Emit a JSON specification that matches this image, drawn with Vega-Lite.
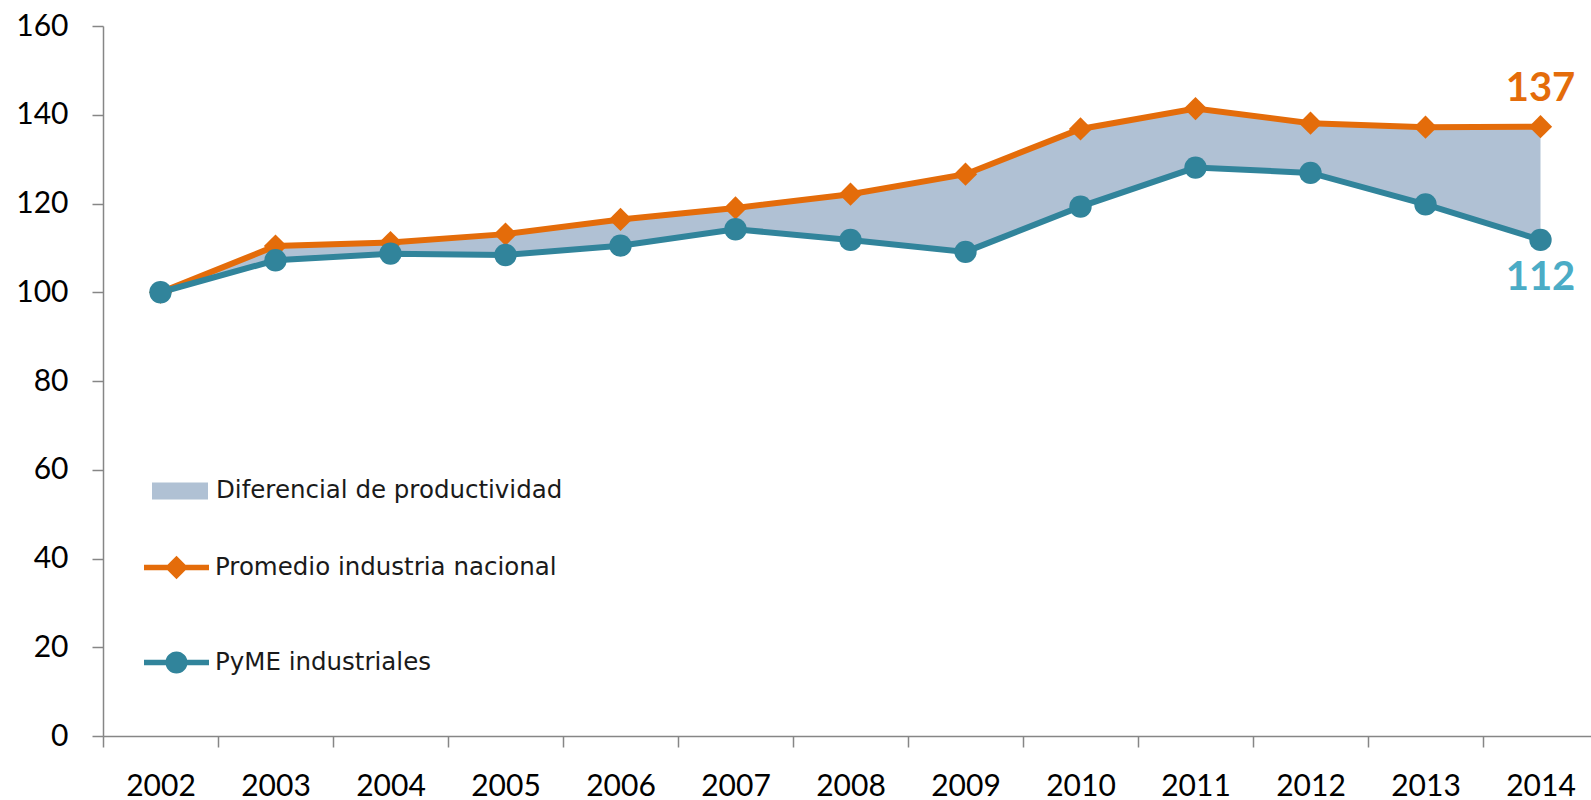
{
  "$schema": "https://vega.github.io/schema/vega-lite/v6.json",
  "width": 1488,
  "height": 710,
  "autosize": "none",
  "padding": {"left": 103, "top": 26, "right": 0, "bottom": 64},
  "background": "white",
  "config": {
    "view": {"stroke": null},
    "axis": {
      "domainColor": "#868686",
      "tickColor": "#868686",
      "domainWidth": 1.5,
      "tickWidth": 1.5,
      "tickSize": 11,
      "labelFont": "Lato",
      "labelFontSize": 30,
      "labelColor": "#000000",
      "labelPadding": 24,
      "grid": false,
      "title": null
    }
  },
  "resolve": {"scale": {"fill": "independent", "shape": "independent"}},
  "data": {
    "values": [
      {"year": "2002", "Promedio industria nacional": 100.0, "PyME industriales": 100.0},
      {"year": "2003", "Promedio industria nacional": 110.4, "PyME industriales": 107.2},
      {"year": "2004", "Promedio industria nacional": 111.2, "PyME industriales": 108.7},
      {"year": "2005", "Promedio industria nacional": 113.1, "PyME industriales": 108.4},
      {"year": "2006", "Promedio industria nacional": 116.4, "PyME industriales": 110.5},
      {"year": "2007", "Promedio industria nacional": 119.0, "PyME industriales": 114.2},
      {"year": "2008", "Promedio industria nacional": 122.1, "PyME industriales": 111.8},
      {"year": "2009", "Promedio industria nacional": 126.6, "PyME industriales": 109.1},
      {"year": "2010", "Promedio industria nacional": 136.8, "PyME industriales": 119.3},
      {"year": "2011", "Promedio industria nacional": 141.4, "PyME industriales": 128.1},
      {"year": "2012", "Promedio industria nacional": 138.1, "PyME industriales": 126.9},
      {"year": "2013", "Promedio industria nacional": 137.2, "PyME industriales": 119.8},
      {"year": "2014", "Promedio industria nacional": 137.3, "PyME industriales": 111.8}
    ]
  },
  "encoding": {
    "x": {
      "field": "year",
      "type": "ordinal",
      "scale": {"type": "band", "range": [0, 1495], "paddingInner": 0, "paddingOuter": 0},
      "axis": {"labelAngle": 0, "tickBand": "extent"}
    }
  },
  "layer": [
    {
      "mark": {"type": "area", "opacity": 1},
      "encoding": {
        "y": {
          "field": "PyME industriales",
          "type": "quantitative",
          "scale": {"domain": [0, 160], "nice": false},
          "axis": {"values": [0, 20, 40, 60, 80, 100, 120, 140, 160]}
        },
        "y2": {"field": "Promedio industria nacional"},
        "fill": {
          "datum": "Diferencial de productividad",
          "type": "nominal",
          "scale": {"range": ["#B0C1D4"]},
          "legend": {
            "orient": "none",
            "legendX": 49,
            "legendY": 437,
            "title": null,
            "padding": 0,
            "symbolType": "M-1,-0.3L1,-0.3L1,0.3L-1,0.3Z",
            "symbolSize": 3136,
            "symbolStrokeWidth": 0,
            "symbolOpacity": 1,
            "labelFont": "DejaVu Sans",
            "labelFontSize": 24.5,
            "labelColor": "#1a1a1a",
            "labelOffset": 8,
            "labelLimit": 500
          }
        }
      }
    },
    {
      "transform": [{"fold": ["Promedio industria nacional", "PyME industriales"], "as": ["serie", "valor"]}],
      "mark": {"type": "line", "strokeWidth": 6},
      "encoding": {
        "y": {"field": "valor", "type": "quantitative"},
        "stroke": {
          "field": "serie",
          "type": "nominal",
          "scale": {"domain": ["Promedio industria nacional", "PyME industriales"], "range": ["#E46C0A", "#31849B"]},
          "legend": null
        }
      }
    },
    {
      "mark": {"type": "point", "shape": "diamond", "filled": true, "opacity": 1, "size": 540, "color": "#E46C0A"},
      "encoding": {
        "y": {"field": "Promedio industria nacional", "type": "quantitative"}
      }
    },
    {
      "mark": {"type": "point", "shape": "circle", "filled": true, "opacity": 1, "size": 500, "color": "#31849B"},
      "encoding": {
        "y": {"field": "PyME industriales", "type": "quantitative"}
      }
    },
    {
      "transform": [
        {"fold": ["Promedio industria nacional", "PyME industriales"], "as": ["serie", "valor"]},
        {"filter": "datum.year === 'leyenda'"}
      ],
      "mark": {"type": "point", "filled": true, "opacity": 1},
      "encoding": {
        "y": {"field": "valor", "type": "quantitative"},
        "fill": {
          "field": "serie",
          "type": "nominal",
          "scale": {"domain": ["Promedio industria nacional", "PyME industriales"], "range": ["#E46C0A", "#31849B"]},
          "legend": {
            "orient": "none",
            "legendX": 41,
            "legendY": 509,
            "title": null,
            "padding": 0,
            "symbolSize": 4225,
            "symbolOpacity": 1,
            "symbolStrokeWidth": 0,
            "rowPadding": 50,
            "labelFont": "DejaVu Sans",
            "labelFontSize": 24.5,
            "labelColor": "#1a1a1a",
            "labelOffset": 6,
            "labelLimit": 500
          }
        },
        "shape": {
          "field": "serie",
          "type": "nominal",
          "scale": {
            "domain": ["Promedio industria nacional", "PyME industriales"],
            "range": [
              "M-1,-0.085L1,-0.085L1,0.085L-1,0.085Z M0,-0.36L0.36,0L0,0.36L-0.36,0Z",
              "M-1,-0.085L1,-0.085L1,0.085L-1,0.085Z M-0.34,0A0.34,0.34 0 1,1 0.34,0A0.34,0.34 0 1,1 -0.34,0Z"
            ]
          },
          "legend": {
            "orient": "none",
            "legendX": 41,
            "legendY": 509,
            "title": null,
            "padding": 0,
            "symbolSize": 4225,
            "symbolOpacity": 1,
            "symbolStrokeWidth": 0,
            "rowPadding": 50,
            "labelFont": "DejaVu Sans",
            "labelFontSize": 24.5,
            "labelColor": "#1a1a1a",
            "labelOffset": 6,
            "labelLimit": 500
          }
        }
      }
    },
    {
      "transform": [{"filter": "datum.year === '2014'"}],
      "mark": {"type": "text", "font": "Lato", "fontWeight": "bold", "fontSize": 40, "color": "#E46C0A", "dy": -38},
      "encoding": {
        "y": {"field": "Promedio industria nacional", "type": "quantitative"},
        "text": {"field": "Promedio industria nacional", "type": "quantitative", "format": ".0f"}
      }
    },
    {
      "transform": [{"filter": "datum.year === '2014'"}],
      "mark": {"type": "text", "font": "Lato", "fontWeight": "bold", "fontSize": 40, "color": "#4BACC6", "dy": 38},
      "encoding": {
        "y": {"field": "PyME industriales", "type": "quantitative"},
        "text": {"field": "PyME industriales", "type": "quantitative", "format": ".0f"}
      }
    }
  ]
}
